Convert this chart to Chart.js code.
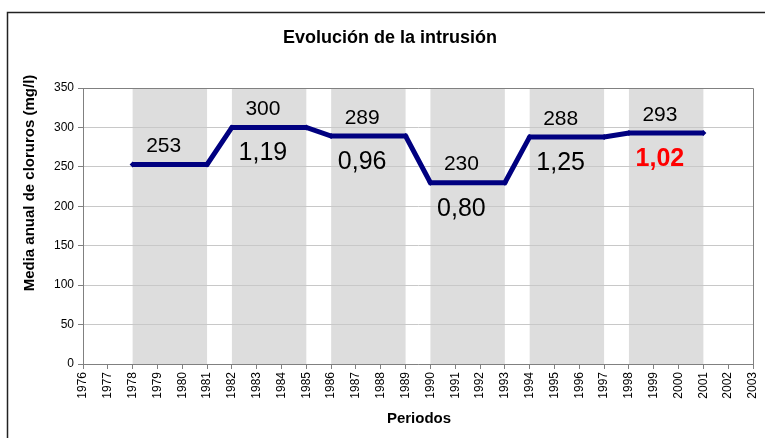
<!DOCTYPE html>
<html>
<head>
<meta charset="utf-8">
<script src="https://cdn.jsdelivr.net/npm/chart.js@4"></script>
<style>
  html, body { margin: 0; padding: 0; background: #fff; }
  #wrap { width: 765px; height: 438px; }
</style>
</head>
<body>
<div id="wrap"><canvas id="intrusion-chart" width="765" height="438"></canvas></div>
<script>
// Periods (start / end year) and mean chloride values
const periodStart = [1978, 1982, 1986, 1990, 1994, 1998];
const periodEnd = [1981, 1985, 1989, 1993, 1997, 2001];
const mediaCloruros = [253, 300, 289, 230, 288, 293];
// Ratio between consecutive periods (first period has none)
const ratios = [null, '1,19', '0,96', '0,80', '1,25', '1,02'];
const yearMin = 1976;
const yearMax = 2003;
const yTicks = [0, 50, 100, 150, 200, 250, 300, 350];

const chartTitle = 'Evolución de la intrusión';
const xTitle = 'Periodos';
const yTitle = 'Media anual de cloruros (mg/l)';

// build step line points from the periods
const linePoints = [];
periodStart.forEach((start, i) => {
  linePoints.push({ x: start, y: mediaCloruros[i] });
  linePoints.push({ x: periodEnd[i], y: mediaCloruros[i] });
});

const FONT = "'Liberation Sans', Arial, sans-serif";

// gray period bands, drawn under the grid
const bandsPlugin = {
  id: 'bands',
  beforeDraw(chart) {
    const { ctx, chartArea, scales } = chart;
    ctx.save();
    ctx.fillStyle = '#dddddd';
    periodStart.forEach((start, i) => {
      const x1 = scales.x.getPixelForValue(start);
      const x2 = scales.x.getPixelForValue(periodEnd[i]);
      ctx.fillRect(x1, chartArea.top, x2 - x1, chartArea.bottom - chartArea.top);
    });
    ctx.restore();
  }
};

// frame, titles, plot border and value / ratio labels
const labelsPlugin = {
  id: 'periodLabels',
  afterDraw(chart) {
    const { ctx, chartArea, scales } = chart;
    ctx.save();
    // plot area border (top & right)
    ctx.strokeStyle = '#808080';
    ctx.lineWidth = 1;
    ctx.beginPath();
    ctx.moveTo(chartArea.left, chartArea.top + 0.5);
    ctx.lineTo(chartArea.right + 0.5, chartArea.top + 0.5);
    ctx.lineTo(chartArea.right + 0.5, chartArea.bottom);
    ctx.stroke();

    // outer chart frame (top and left visible)
    ctx.strokeStyle = '#222';
    ctx.lineWidth = 1.5;
    ctx.beginPath();
    ctx.moveTo(7.5, 438);
    ctx.lineTo(7.5, 12.5);
    ctx.lineTo(765, 12.5);
    ctx.stroke();

    // titles
    ctx.fillStyle = '#000';
    ctx.textAlign = 'center';
    ctx.textBaseline = 'middle';
    ctx.font = `bold 18px ${FONT}`;
    ctx.fillText(chartTitle, 390, 38);
    ctx.font = `bold 15px ${FONT}`;
    ctx.fillText(xTitle, 419, 419);
    ctx.save();
    ctx.translate(30, 183);
    ctx.rotate(-Math.PI / 2);
    ctx.fillText(yTitle, 0, 0);
    ctx.restore();

    // value (above) and ratio (below) labels per period
    periodStart.forEach((start, i) => {
      const cx = scales.x.getPixelForValue(start + 1.25);
      const ly = scales.y.getPixelForValue(mediaCloruros[i]);
      ctx.fillStyle = '#000';
      ctx.font = `21px ${FONT}`;
      ctx.fillText(String(mediaCloruros[i]), cx, ly - 18);
      if (ratios[i]) {
        const last = i === ratios.length - 1;
        ctx.fillStyle = last ? '#ff0000' : '#000';
        ctx.font = `${last ? 'bold ' : ''}25px ${FONT}`;
        ctx.fillText(ratios[i], cx, ly + 26);
      }
    });
    ctx.restore();
  }
};

const ctx = document.getElementById('intrusion-chart').getContext('2d');
new Chart(ctx, {
  type: 'line',
  data: {
    datasets: [{
      data: linePoints,
      borderColor: '#000080',
      backgroundColor: '#000080',
      borderWidth: 5,
      pointStyle: 'rectRot',
      pointRadius: 3,
      pointBorderWidth: 0,
      tension: 0,
      fill: false
    }]
  },
  options: {
    responsive: false,
    animation: false,
    layout: { padding: { left: 7, right: 12, top: 88, bottom: 0 } },
    plugins: {
      legend: { display: false },
      tooltip: { enabled: false },
      title: { display: false }
    },
    scales: {
      x: {
        type: 'linear',
        min: yearMin,
        max: yearMax,
        afterBuildTicks(scale) {
          const ticks = [];
          for (let y = yearMin; y <= yearMax; y++) ticks.push({ value: y });
          scale.ticks = ticks;
        },
        afterFit(scale) {
          scale.height = 74;
          scale.paddingLeft = 0;
          scale.paddingRight = 0;
        },
        ticks: {
          color: '#000',
          font: { family: FONT, size: 12 },
          minRotation: 90,
          maxRotation: 90,
          autoSkip: false,
          padding: 3,
          callback: (v) => String(v)
        },
        grid: { drawOnChartArea: false, tickLength: 5, color: '#808080' },
        border: { color: '#808080' }
      },
      y: {
        min: 0,
        max: 350,
        afterBuildTicks(scale) {
          scale.ticks = yTicks.map(v => ({ value: v }));
        },
        afterFit(scale) {
          scale.width = 76;
          scale.paddingTop = 0;
          scale.paddingBottom = 0;
        },
        ticks: {
          color: '#000',
          font: { family: FONT, size: 12 },
          padding: 4
        },
        grid: {
          color: '#c8c8c8',
          tickColor: '#808080',
          tickLength: 5
        },
        border: { color: '#808080' }
      }
    }
  },
  plugins: [bandsPlugin, labelsPlugin]
});
</script>
</body>
</html>
